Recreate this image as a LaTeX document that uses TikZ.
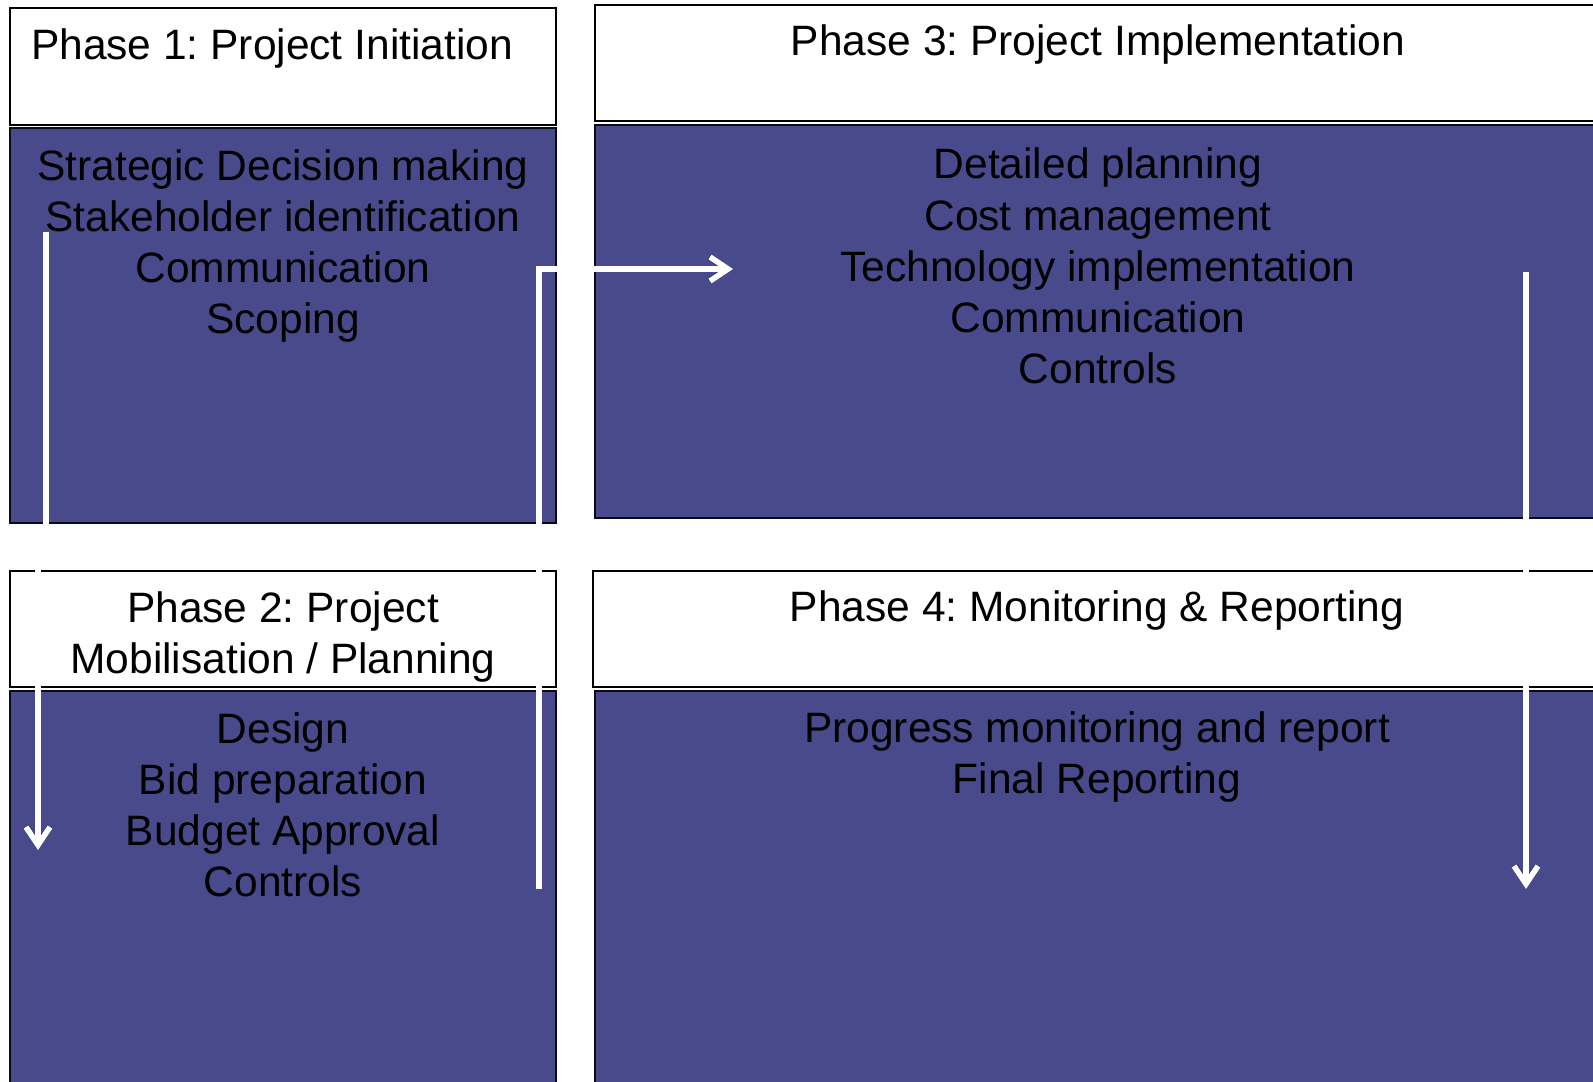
\documentclass[tikz,border=0pt]{standalone}
\usepackage{fontspec}
\setmainfont{Liberation Sans}
\usetikzlibrary{arrows.meta}
\definecolor{phaseblue}{RGB}{73,74,140}
\frenchspacing
\begin{document}
\begin{tikzpicture}[x=0.5pt,y=-0.5pt,
  hdr/.style={draw=black, line width=0.7pt, fill=white},
  body/.style={draw=black!85!phaseblue, line width=0.7pt, fill=phaseblue},
  txt/.style={font=\fontsize{21.25}{25.55}\selectfont, align=center, inner sep=0pt, text=black},
  flow/.style={draw=white, line width=2.8pt,
    -{Straight Barb[length=9pt,width=12pt,line width=2.8pt]}},
  flowshadow/.style={draw=black, opacity=0.3, line width=3.2pt,
    -{Straight Barb[length=9pt,width=12pt,line width=3.2pt]}, shift={(3,4)}}
]
\useasboundingbox (0,0) rectangle (1593,1081);
\clip (0,0) rectangle (1593,1081);
\fill[white] (0,0) rectangle (1593,1081);

% boxes
\draw[hdr]  (10,8)    rectangle (556,125);
\draw[body] (10,128)  rectangle (556,523);
\draw[hdr]  (595,5)   rectangle (1610,121);
\draw[body] (595,125) rectangle (1610,518);
\draw[hdr]  (10,571)  rectangle (556,687);
\draw[body] (10,691)  rectangle (556,1100);
\draw[hdr]  (593,571) rectangle (1610,687);
\draw[body] (595,691) rectangle (1610,1100);

% texts
\node[txt] (t1h) at (272,49) {Phase 1: Project Initiation};
\node[txt] (t1b) at (283,246) {Strategic Decision making\\Stakeholder identification\\Communication\\Scoping};
\node[txt] (t3h) at (1098,45) {Phase 3: Project Implementation};
\node[txt] (t3b) at (1098,266) {Detailed planning\\Cost management\\Technology implementation\\Communication\\Controls};
\node[txt] (t2h) at (283,637) {Phase 2: Project\\Mobilisation / Planning};
\node[txt] (t2b) at (283,805) {Design\\Bid preparation\\Budget Approval\\Controls};
\node[txt] (t4h) at (1097,611) {Phase 4: Monitoring \& Reporting};
\node[txt] (t4b) at (1097,757) {Progress monitoring and report\\Final Reporting};

% connector coordinates
\coordinate (a1) at (46,232);
\coordinate (a2) at (46,547);
\coordinate (a3) at (38,547);
\coordinate (a4) at (38,850);
\coordinate (b1) at (539,889);
\coordinate (b2) at (539,269);
\coordinate (b3) at (733,269);
\coordinate (c1) at (1526,272);
\coordinate (c2) at (1526,889);

% shadows
\draw[flowshadow] (a1) -- (a2) -- (a3) -- (a4);
\draw[flowshadow] (b1) -- (b2) -- (b3);
\draw[flowshadow] (c1) -- (c2);
% arrows
\draw[flow] (a1) -- (a2) -- (a3) -- (a4);
\draw[flow] (b1) -- (b2) -- (b3);
\draw[flow] (c1) -- (c2);
\end{tikzpicture}
\end{document}
